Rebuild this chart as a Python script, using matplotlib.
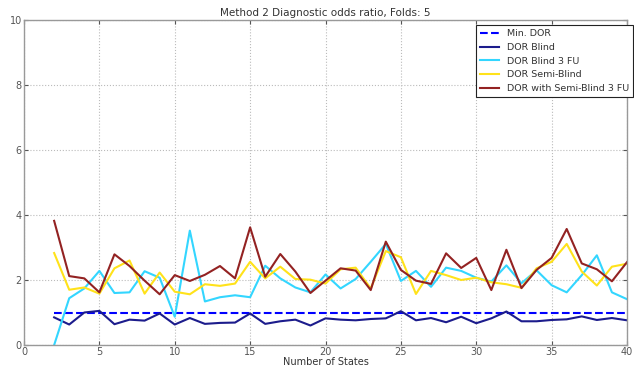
import matplotlib
matplotlib.use('Agg')
import matplotlib.pyplot as plt

# number of states on the x axis
states = list(range(2, 41))

min_dor = [1.0] * len(states)

dor_blind = [0.85, 0.63, 1.00, 1.05, 0.64, 0.78, 0.75, 0.97, 0.63, 0.83, 0.65, 0.68, 0.69,
             0.97, 0.65, 0.73, 0.78, 0.60, 0.82, 0.78, 0.76, 0.80, 0.82, 1.04, 0.76,
             0.83, 0.70, 0.87, 0.67, 0.82, 1.03, 0.73, 0.73, 0.77, 0.79, 0.88, 0.77, 0.83, 0.76]

dor_blind_3fu = [0.0, 1.44, 1.74, 2.28, 1.60, 1.62, 2.27, 2.07, 0.87, 3.52, 1.34, 1.47, 1.53,
                 1.47, 2.44, 2.05, 1.77, 1.62, 2.17, 1.74, 2.03, 2.56, 3.11, 1.97, 2.28,
                 1.79, 2.38, 2.28, 2.07, 1.95, 2.45, 1.90, 2.30, 1.84, 1.62, 2.15, 2.76, 1.62, 1.41]

dor_semi = [2.83, 1.70, 1.77, 1.58, 2.36, 2.60, 1.58, 2.23, 1.64, 1.56, 1.87, 1.82, 1.89,
            2.56, 2.05, 2.41, 2.03, 2.01, 1.89, 2.33, 2.38, 1.74, 2.89, 2.70, 1.57,
            2.28, 2.15, 2.00, 2.07, 1.93, 1.87, 1.76, 2.36, 2.56, 3.11, 2.26, 1.83, 2.41, 2.50]

dor_semi_3fu = [3.82, 2.12, 2.05, 1.62, 2.79, 2.43, 1.98, 1.56, 2.15, 1.97, 2.16, 2.43, 2.05,
                3.62, 2.10, 2.80, 2.26, 1.60, 1.98, 2.36, 2.29, 1.69, 3.18, 2.31, 1.98,
                1.88, 2.82, 2.37, 2.68, 1.69, 2.93, 1.75, 2.31, 2.68, 3.57, 2.51, 2.33, 1.96, 2.55]

plt.rcParams['font.family'] = 'DejaVu Sans'
plt.rcParams['text.color'] = '#333333'
plt.rcParams['xtick.color'] = '#555555'
plt.rcParams['ytick.color'] = '#555555'

fig = plt.figure(figsize=(6.34, 3.68), dpi=100)
ax = fig.add_axes([24 / 634, 1 - 345 / 368, (627 - 24) / 634, (345 - 20) / 368])

ax.plot(states, min_dor, '--', color='blue', lw=1.5, label='Min. DOR')
ax.plot(states, dor_blind, color='#1c1c8c', lw=1.5, label='DOR Blind')
ax.plot(states, dor_blind_3fu, color='#33d6ff', lw=1.5, label='DOR Blind 3 FU')
ax.plot(states, dor_semi, color='#ffe21a', lw=1.5, label='DOR Semi-Blind')
ax.plot(states, dor_semi_3fu, color='#932222', lw=1.5, label='DOR with Semi-Blind 3 FU')

ax.set_xlim(0, 40)
ax.set_ylim(0, 10)
ax.set_xticks(range(0, 41, 5))
ax.set_yticks(range(0, 11, 2))
ax.tick_params(direction='in', length=3, labelsize=7, pad=1.5)
ax.tick_params(axis='x', top=True)
ax.tick_params(axis='y', right=True)
for s in ax.spines.values():
    s.set_color('#999999')
    s.set_linewidth(1.0)
ax.grid(True, linestyle=':', color='#bbbbbb', lw=0.8)

ax.set_title('Method 2 Diagnostic odds ratio, Folds: 5', fontsize=7.5, pad=3, color='#333333')
ax.set_xlabel('Number of States', fontsize=7, labelpad=0, color='#333333')

leg = ax.legend(loc='upper left', bbox_to_anchor=(0.7496, 0.985), fontsize=6.8,
                fancybox=False, framealpha=1, borderaxespad=0, handlelength=2.0,
                labelspacing=0.5, borderpad=0.45)
leg.get_frame().set_edgecolor('#222222')
leg.get_frame().set_linewidth(0.8)
for t in leg.get_texts():
    t.set_color('#333333')

fig.savefig('out.png', dpi=100)
